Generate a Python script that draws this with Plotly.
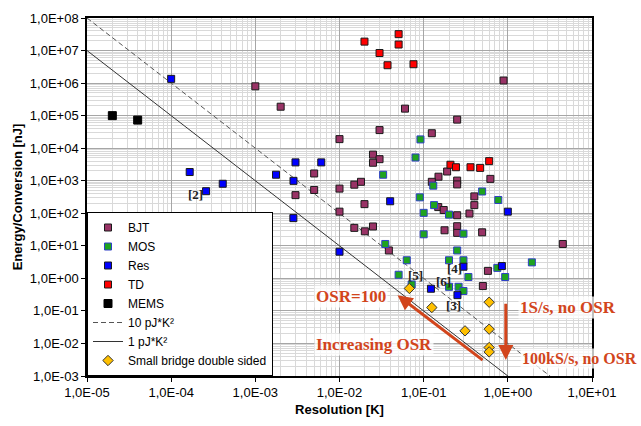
import plotly.graph_objects as go
import math

# ---------------- data ----------------
bjt_x = [1.0e-3, 2.0e-3, 1.0e-2, 3.0e-3, 5.0e-3, 5.0e-3, 1.0e-2, 0.015, 0.018, 0.0299,
         0.025, 0.0299, 0.025, 0.0198, 1.0e-2, 0.015, 0.02, 0.025, 0.0386, 0.25,
         0.125, 0.15, 0.19, 0.125, 0.25, 0.25, 0.62, 0.40, 0.40, 0.149,
         0.173, 0.35, 0.25, 0.25, 0.177, 0.495, 0.06, 0.89, 0.25, 4.5,
         0.58, 0.505]
bjt_y = [7.96e5, 1.88e5, 1.9e4, 361, 1670, 520, 573, 755, 927, 3.6e4,
         6350, 4600, 3570, 191, 112, 35.6, 27.9, 39.3, 7.2, 7.55e4,
         2.88e4, 1330, 1920, 927, 1010, 770, 1140, 330, 178, 155,
         126, 98, 87, 40, 30, 26, 1.64e5, 1.2e6, 25, 11.4,
         1.7, 0.58]

mos_x = [0.0916, 0.08, 0.033, 0.13, 0.09, 0.495, 0.77, 0.1, 0.133, 0.2,
         0.1, 0.297, 0.035, 0.25, 0.063, 0.2, 0.297, 0.75, 1.93, 0.0504,
         0.34, 0.93, 0.2, 0.26, 0.297, 0.072]
mos_y = [1.86e4, 5170, 1530, 705, 309, 467, 256, 103, 178, 91,
         22.6, 23.6, 11.4, 7.2, 3.6, 3.6, 3.6, 2.1, 3.1, 1.29,
         1.1, 1.1, 0.55, 0.55, 0.41, 0.65]

res_x = [1e-4, 1.66e-4, 2.6e-4, 4.1e-4, 1.76e-3, 3.0e-3, 2.84e-3, 6.07e-3, 2.83e-3, 1e-2,
         0.04, 1.0, 0.122, 0.297, 0.252, 0.85]
res_y = [1.35e6, 1850, 477, 807, 1530, 3660, 993, 3660, 71, 6.6,
         234, 112, 0.48, 2.28, 0.305, 2.39]

td_x = [0.0504, 0.0198, 0.0504, 0.0299, 0.0372, 0.0757, 0.208, 0.242, 0.36, 0.469, 0.6]
td_y = [3.19e7, 1.88e7, 1.53e7, 8.4e6, 3.54e6, 3.8e6, 3100, 2600, 2600, 2480, 4000]

mems_x = [2e-5, 4e-5]
mems_y = [1e5, 7.3e4]

bridge_x = [0.0676, 0.125, 0.6, 0.31, 0.6, 0.6, 0.6]
bridge_y = [0.49, 0.127, 0.185, 0.0244, 0.0275, 0.0075, 0.0055]

fom_x = [1e-5, 1e1]
fom10_y = [1e8, 1e-4]
fom1_y = [1e7, 1e-5]

x_ticks = [1e-5, 1e-4, 1e-3, 1e-2, 1e-1, 1e0, 1e1]
y_ticks = [1e-3, 1e-2, 1e-1, 1e0, 1e1, 1e2, 1e3, 1e4, 1e5, 1e6, 1e7, 1e8]

# ---------------- figure ----------------
def lbl(v):
    e = int(round(math.log10(v)))
    return "1,0E%s%02d" % ("+" if e >= 0 else "-", abs(e))

def minors(lo, hi):
    out = []
    for d in range(lo, hi):
        for k in range(2, 10):
            out.append(k * 10.0 ** d)
    return out

fig = go.Figure()

fig.add_trace(go.Scatter(x=fom_x, y=fom10_y, mode="lines", name="10 pJ*K²", legendrank=6,
                         line=dict(color="#555555", width=1, dash="5px,3px")))
fig.add_trace(go.Scatter(x=fom_x, y=fom1_y, mode="lines", name="1 pJ*K²", legendrank=7,
                         line=dict(color="#333333", width=1)))

sq = dict(symbol="square", size=7)
fig.add_trace(go.Scatter(x=bjt_x, y=bjt_y, mode="markers", name="BJT", legendrank=1,
                         marker=dict(**sq, color="#993366", line=dict(color="#1a1a1a", width=1))))
fig.add_trace(go.Scatter(x=mos_x, y=mos_y, mode="markers", name="MOS", legendrank=2,
                         marker=dict(**sq, color="#1FA31F", line=dict(color="#2F3FC8", width=1))))
fig.add_trace(go.Scatter(x=res_x, y=res_y, mode="markers", name="Res", legendrank=3,
                         marker=dict(**sq, color="#0000FF", line=dict(color="#1a1a1a", width=1))))
fig.add_trace(go.Scatter(x=td_x, y=td_y, mode="markers", name="TD", legendrank=4,
                         marker=dict(**sq, color="#FF0000", line=dict(color="#1a1a1a", width=1))))
fig.add_trace(go.Scatter(x=mems_x, y=mems_y, mode="markers", name="MEMS", legendrank=5,
                         marker=dict(symbol="square", size=8, color="#000000",
                                     line=dict(color="#000000", width=1))))
fig.add_trace(go.Scatter(x=bridge_x, y=bridge_y, mode="markers", name="Small bridge double sided",
                         legendrank=8,
                         marker=dict(symbol="diamond", size=8, color="#FFC000",
                                     line=dict(color="#333333", width=1))))

axis_common = dict(type="log", showline=True, linecolor="black", linewidth=1.5, mirror=True,
                   ticks="outside", ticklen=4, tickcolor="black",
                   showgrid=True, gridcolor="#A6A6A6", gridwidth=1,
                   tickfont=dict(family="Liberation Sans, Arial", size=13, color="black"),
                   zeroline=False)

fig.update_xaxes(**axis_common, range=[-5, 1], tickvals=x_ticks,
                 ticktext=[lbl(v) for v in x_ticks],
                 minor=dict(tickvals=minors(-5, 1), showgrid=True, gridcolor="#D9D9D9",
                            gridwidth=1, ticks=""),
                 title=dict(text="<b>Resolution [K]</b>", standoff=6,
                            font=dict(family="Liberation Sans, Arial", size=13, color="black")))
fig.update_yaxes(**axis_common, range=[-3, 8], tickvals=y_ticks,
                 ticktext=[lbl(v) for v in y_ticks],
                 minor=dict(tickvals=minors(-3, 8), showgrid=True, gridcolor="#D9D9D9",
                            gridwidth=1, ticks=""),
                 title=dict(text="<b>Energy/Conversion [nJ]</b>", standoff=4,
                            font=dict(family="Liberation Sans, Arial", size=13, color="black")))

orange = "#D2451C"
serif = "Liberation Serif, Times New Roman, serif"

def ptext(txt, xf, yf, size=17, color=orange, anchor="center", bg="rgba(255,255,255,0.75)"):
    fig.add_annotation(text="<b>%s</b>" % txt, xref="paper", yref="paper", x=xf, y=yf,
                       xanchor=anchor, yanchor="middle", showarrow=False,
                       font=dict(family=serif, size=size, color=color), bgcolor=bg, borderpad=1)

ptext("OSR=100", 0.523, 0.2234)
ptext("Increasing OSR", 0.568, 0.087)
ptext("1S/s, no OSR", 0.952, 0.191)
ptext("100kS/s, no OSR", 0.857, 0.049, size=16, anchor="left")

for t, xf, yf in [("[2]", 0.214, 0.507), ("[5]", 0.651, 0.281), ("[4]", 0.727, 0.300),
                  ("[6]", 0.705, 0.264), ("[3]", 0.725, 0.196)]:
    ptext(t, xf, yf, size=13, color="#222222", bg="rgba(255,255,255,0)")

# arrows
fig.add_annotation(x=math.log10(0.0489), y=math.log10(0.305),
                   ax=math.log10(0.524), ay=math.log10(0.00284),
                   xref="x", yref="y", axref="x", ayref="y", text="", showarrow=True,
                   arrowhead=2, arrowsize=1, arrowwidth=3, arrowcolor=orange)
fig.add_annotation(x=math.log10(0.946), y=math.log10(0.0031),
                   ax=math.log10(0.946), ay=math.log10(0.185),
                   xref="x", yref="y", axref="x", ayref="y", text="", showarrow=True,
                   arrowhead=2, arrowsize=1, arrowwidth=3, arrowcolor=orange)

fig.update_layout(
    width=641, height=426,
    margin=dict(l=87, r=49, t=11, b=48),
    paper_bgcolor="white", plot_bgcolor="white",
    showlegend=True,
    legend=dict(x=0, y=0, xanchor="left", yanchor="bottom", bgcolor="white",
                bordercolor="black", borderwidth=1, tracegroupgap=0,
                font=dict(family="Liberation Sans, Arial", size=12, color="black")),
)

fig.write_html("out.html")
